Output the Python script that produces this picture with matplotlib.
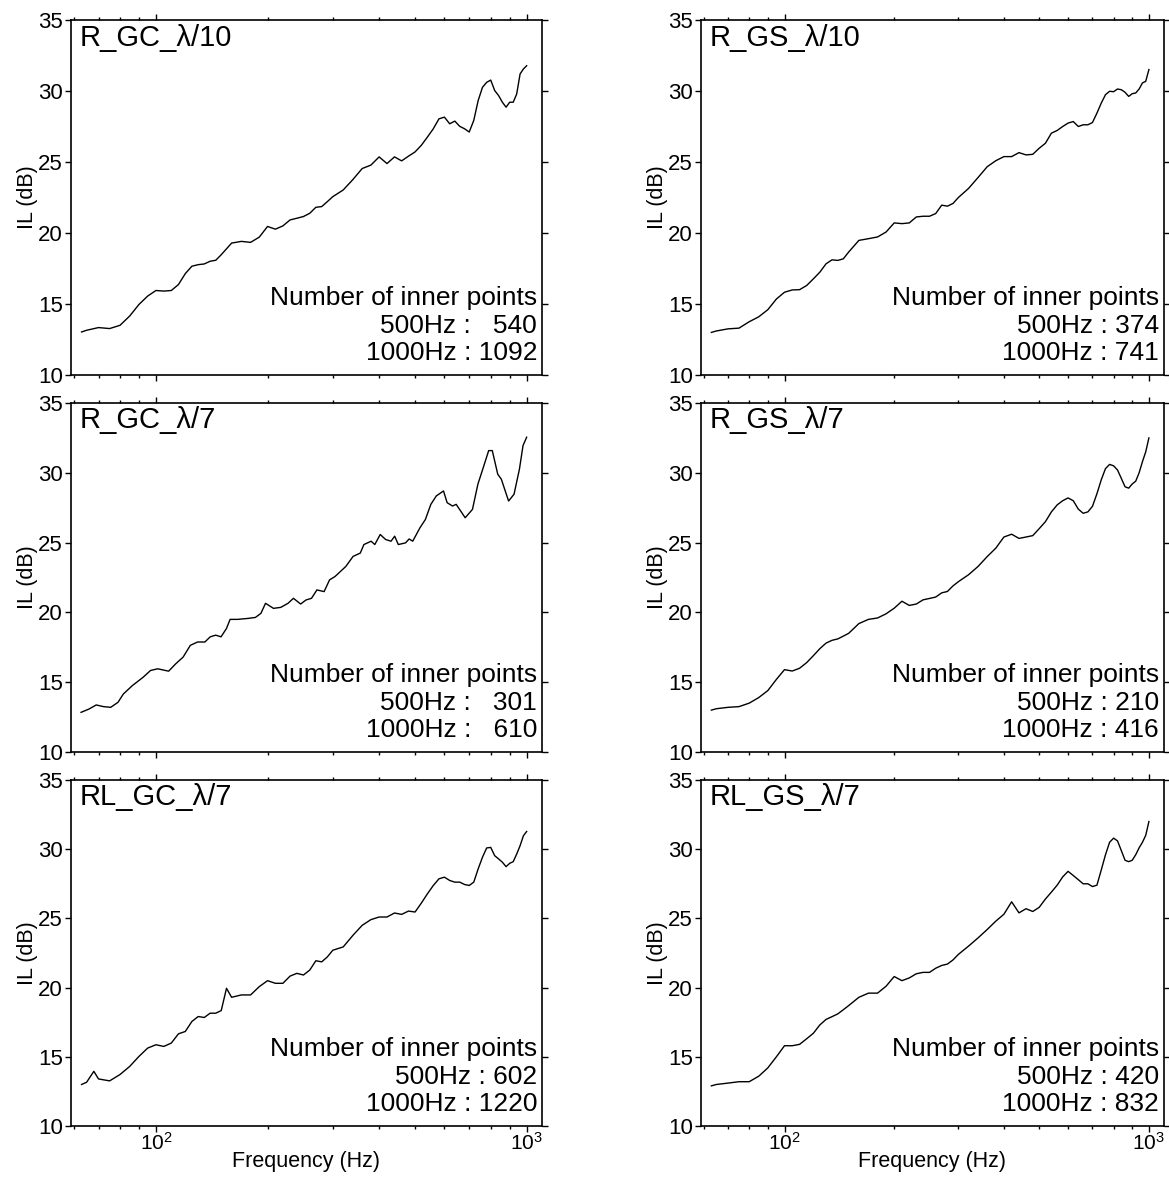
import matplotlib
matplotlib.use("Agg")
import matplotlib.pyplot as plt
from matplotlib.ticker import LogLocator, FixedLocator, NullFormatter

plt.rcParams['font.family'] = ['Liberation Sans', 'DejaVu Sans']
plt.rcParams['mathtext.fontset'] = 'custom'
plt.rcParams['mathtext.rm'] = 'Liberation Sans'

# frequency grid (Hz) shared by most panels
freq = [63, 65, 70, 75, 80, 85, 90, 95,
        100, 105, 110, 115, 120, 125, 130, 135, 140, 145, 150,
        160, 170, 180, 190, 200, 210, 220, 230, 240, 250, 260, 270, 280, 290, 300,
        320, 340, 360, 380, 400, 420, 440, 460, 480, 500, 520, 540, 560, 580, 600,
        620, 640, 660, 680, 700, 720, 740, 760, 780, 800, 820, 840, 860, 880, 900,
        920, 940, 960, 980, 1000]

# R_GC_lambda/10
il_r_gc_10 = [13.03, 13.15, 13.34, 13.27, 13.50, 14.16, 14.97, 15.56,
              15.95, 15.91, 15.95, 16.37, 17.14, 17.66, 17.77, 17.82, 18.01, 18.08, 18.47,
              19.29, 19.41, 19.34, 19.71, 20.46, 20.27, 20.50, 20.92, 21.04, 21.16, 21.39, 21.81, 21.86, 22.21, 22.56,
              23.03, 23.77, 24.54, 24.78, 25.36, 24.89, 25.36, 25.08, 25.41, 25.71, 26.18, 26.76, 27.34, 28.04, 28.16,
              27.69, 27.88, 27.51, 27.34, 27.11, 27.93, 29.33, 30.26, 30.61, 30.77, 30.03, 29.68, 29.21, 28.86, 29.21,
              29.21, 29.79, 31.20, 31.55, 31.78]

# R_GS_lambda/10
il_r_gs_10 = [13.00, 13.10, 13.25, 13.30, 13.75, 14.10, 14.60, 15.35,
              15.83, 15.99, 16.01, 16.30, 16.77, 17.24, 17.83, 18.11, 18.07, 18.18, 18.66,
              19.48, 19.60, 19.72, 20.07, 20.71, 20.66, 20.71, 21.13, 21.18, 21.18, 21.37, 21.96, 21.89, 22.08, 22.50,
              23.14, 23.92, 24.67, 25.09, 25.38, 25.38, 25.66, 25.50, 25.54, 25.97, 26.32, 27.03, 27.22, 27.50, 27.74,
              27.85, 27.50, 27.62, 27.62, 27.78, 28.44, 29.15, 29.74, 29.98, 29.95, 30.14, 30.09, 29.91, 29.62, 29.81,
              29.86, 30.14, 30.57, 30.68, 31.51]

# R_GC_lambda/7
freq_r_gc_7 = [62.8, 66.0, 69.0, 72.2, 75.5, 79.0, 81.7, 86.4, 92.4, 96.7,
               101.1, 108.2, 113.1, 118.4, 123.8, 129.5, 135.5, 140.1, 144.9, 149.8,
               155.0, 158.5, 165.8, 177.4, 185.5, 191.9, 197.5, 207.5, 217.1, 227.1,
               234.9, 245.6, 254.0, 262.8, 271.8, 284.2, 294.0, 304.1, 311.0, 325.2,
               340.2, 355.8, 363.9, 380.6, 389.3, 402.7, 416.5, 430.7, 440.5, 450.6,
               471.2, 481.9, 492.8, 515.4, 533.2, 551.5, 570.4, 596.6, 610.2, 631.0,
               645.5, 682.7, 714.2, 738.6, 763.9, 789.9, 807.8, 835.6, 854.5, 893.8,
               924.5, 956.1, 977.7, 1000]
il_r_gc_7 = [12.84, 13.08, 13.37, 13.25, 13.20, 13.56, 14.16, 14.76, 15.36, 15.84,
             15.96, 15.79, 16.32, 16.80, 17.64, 17.88, 17.88, 18.25, 18.37, 18.25,
             18.85, 19.50, 19.50, 19.57, 19.64, 19.93, 20.65, 20.29, 20.36, 20.65,
             21.01, 20.60, 20.89, 21.01, 21.61, 21.49, 22.33, 22.57, 22.81, 23.29,
             24.01, 24.25, 24.86, 25.10, 24.86, 25.58, 25.22, 25.10, 25.46, 24.86,
             24.98, 25.26, 25.10, 26.06, 26.66, 27.74, 28.34, 28.70, 27.86, 27.62,
             27.74, 26.78, 27.38, 29.18, 30.38, 31.59, 31.59, 29.90, 29.54, 27.98,
             28.46, 30.26, 31.95, 32.55]

# R_GS_lambda/7
il_r_gs_7 = [13.00, 13.10, 13.20, 13.25, 13.50, 13.90, 14.40, 15.20,
             15.90, 15.80, 16.00, 16.40, 16.90, 17.40, 17.80, 18.00, 18.10, 18.30, 18.50,
             19.20, 19.50, 19.60, 19.90, 20.30, 20.80, 20.50, 20.60, 20.90, 21.00, 21.10, 21.40, 21.50, 21.90, 22.20,
             22.70, 23.30, 24.00, 24.60, 25.40, 25.60, 25.30, 25.40, 25.50, 26.00, 26.50, 27.20, 27.70, 28.00, 28.20,
             28.00, 27.40, 27.10, 27.20, 27.60, 28.50, 29.50, 30.30, 30.60, 30.50, 30.20, 29.60, 29.00, 28.90, 29.20,
             29.40, 30.00, 30.80, 31.50, 32.50]

# RL_GC_lambda/7
freq_rl_gc_7 = [63, 65, 68, 70, 75, 80, 85, 90, 95,
                100, 105, 110, 115, 120, 125, 130, 135, 140, 145, 150, 155,
                160, 170, 180, 190, 200, 210, 220, 230, 240, 250, 260, 270, 280, 290, 300,
                320, 340, 360, 380, 400, 420, 440, 460, 480, 500, 520, 540, 560, 580, 600,
                620, 640, 660, 680, 700, 720, 740, 760, 780, 800, 820, 840, 860, 880, 900,
                920, 940, 960, 980, 1000]
il_rl_gc_7 = [13.00, 13.16, 13.95, 13.40, 13.26, 13.72, 14.31, 15.03, 15.63,
              15.87, 15.75, 15.99, 16.66, 16.83, 17.55, 17.91, 17.84, 18.15, 18.15, 18.34, 19.95,
              19.30, 19.47, 19.47, 20.07, 20.50, 20.31, 20.31, 20.83, 21.03, 20.91, 21.27, 21.94, 21.86, 22.22, 22.70,
              22.94, 23.78, 24.50, 24.91, 25.10, 25.10, 25.39, 25.29, 25.53, 25.46, 26.11, 26.78, 27.38, 27.86, 27.98,
              27.74, 27.62, 27.62, 27.45, 27.38, 27.62, 28.58, 29.42, 30.09, 30.13, 29.53, 29.30, 29.06, 28.74, 28.98,
              29.10, 29.65, 30.25, 30.97, 31.28]

# RL_GS_lambda/7
il_rl_gs_7 = [12.90, 13.00, 13.10, 13.20, 13.20, 13.60, 14.20, 15.00,
              15.80, 15.80, 15.90, 16.30, 16.70, 17.30, 17.70, 17.90, 18.10, 18.40, 18.70,
              19.30, 19.60, 19.60, 20.10, 20.80, 20.50, 20.70, 21.00, 21.10, 21.10, 21.40, 21.60, 21.70, 22.00, 22.40,
              23.00, 23.60, 24.20, 24.80, 25.30, 26.20, 25.40, 25.70, 25.50, 25.80, 26.40, 26.90, 27.40, 28.00, 28.40,
              28.10, 27.80, 27.50, 27.50, 27.30, 27.40, 28.50, 29.60, 30.50, 30.80, 30.60, 29.90, 29.20, 29.10, 29.20,
              29.60, 30.10, 30.50, 31.00, 32.00]

titles = ['R_GC_λ/10', 'R_GS_λ/10', 'R_GC_λ/7', 'R_GS_λ/7', 'RL_GC_λ/7', 'RL_GS_λ/7']
pts_500 = [540, 374, 301, 210, 602, 420]
pts_1000 = [1092, 741, 610, 416, 1220, 832]
num_width = [4, 3, 4, 3, 3, 3]  # digit column width used in the note

series = [(freq, il_r_gc_10), (freq, il_r_gs_10),
          (freq_r_gc_7, il_r_gc_7), (freq, il_r_gs_7),
          (freq_rl_gc_7, il_rl_gc_7), (freq, il_rl_gs_7)]

W, H = 1169, 1178
fig = plt.figure(figsize=(W / 100, H / 100), dpi=100)

cols = [(71, 542), (701, 1164)]
rows = [(20, 375), (403, 752), (780, 1126)]

for i, (f, il) in enumerate(series):
    r, c = divmod(i, 2)
    x0, x1 = cols[c]
    y0, y1 = rows[r]
    ax = fig.add_axes([x0 / W, 1 - y1 / H, (x1 - x0) / W, (y1 - y0) / H])
    ax.plot(f, il, color='black', lw=1.0)
    ax.set_xscale('log')
    ax.set_xlim(59, 1100)
    ax.set_ylim(10, 35)
    ax.yaxis.set_major_locator(FixedLocator([10, 15, 20, 25, 30, 35]))
    ax.xaxis.set_major_locator(LogLocator(base=10))
    ax.xaxis.set_minor_locator(LogLocator(base=10, subs=range(2, 10)))
    ax.xaxis.set_minor_formatter(NullFormatter())
    ax.tick_params(which='both', direction='out', top=True, right=True,
                   labelsize=16, width=1.0, pad=2)
    ax.tick_params(axis='x', which='both', labelsize=15, pad=0)
    ax.tick_params(which='major', length=4)
    ax.tick_params(which='minor', length=2.5)
    for sp in ax.spines.values():
        sp.set_linewidth(1.2)
    if r < 2:
        ax.tick_params(axis='x', which='both', labelbottom=False)
    else:
        ax.set_xlabel('Frequency (Hz)', fontsize=15.5, labelpad=-2)
    ax.set_ylabel('IL (dB)', fontsize=15.5, labelpad=0)

    ax.text(0.018, 0.99, titles[i], transform=ax.transAxes,
            ha='left', va='top', fontsize=21)

    w = num_width[i]
    n5 = str(pts_500[i])
    n10 = str(pts_1000[i])
    line2 = '500Hz : ' + '  ' * (w - len(n5)) + n5
    line3 = '1000Hz : ' + '  ' * (w - len(n10)) + n10
    for txt, dy in [('Number of inner points', 70), (line2, 42), (line3, 15)]:
        ax.annotate(txt, xy=(1, 0), xycoords='axes fraction',
                    xytext=(-5, dy), textcoords='offset pixels',
                    ha='right', va='baseline', fontsize=19)

fig.savefig('out.png', dpi=100)
